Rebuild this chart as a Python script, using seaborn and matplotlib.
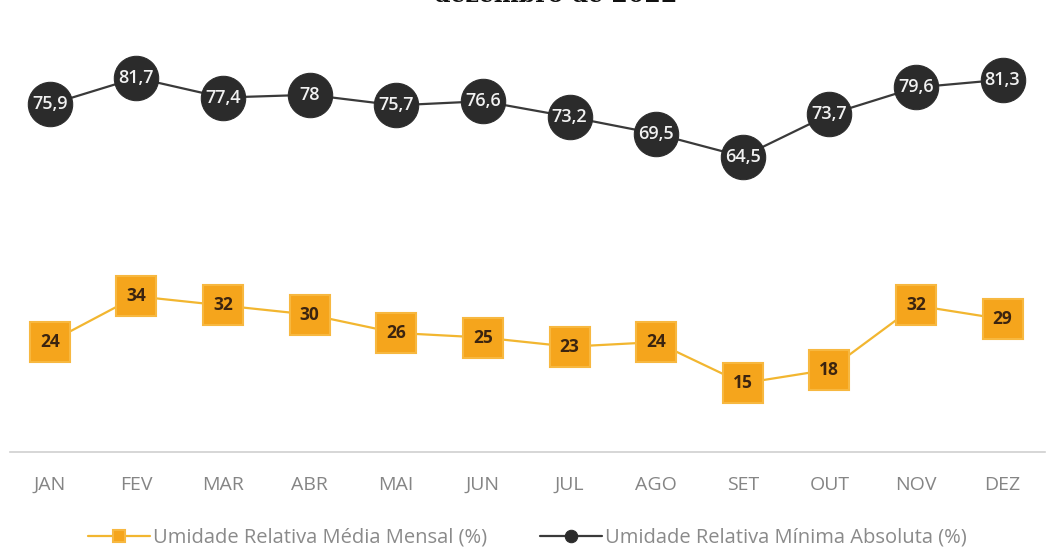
import pandas as pd
import matplotlib.pyplot as plt
import seaborn as sns

# monthly relative humidity values
months = ['JAN', 'FEV', 'MAR', 'ABR', 'MAI', 'JUN', 'JUL', 'AGO', 'SET', 'OUT', 'NOV', 'DEZ']
media_mensal = [24, 34, 32, 30, 26, 25, 23, 24, 15, 18, 32, 29]
minima_absoluta = [75.9, 81.7, 77.4, 78, 75.7, 76.6, 73.2, 69.5, 64.5, 73.7, 79.6, 81.3]
serie_media = 'Umidade Relativa Média Mensal (%)'
serie_minima = 'Umidade Relativa Mínima Absoluta (%)'

sns.set_style('white')
plt.rcParams['font.family'] = ['Open Sans', 'DejaVu Sans']

fig = plt.figure(figsize=(10.57, 5.53), dpi=100)
ax = fig.add_axes([10 / 1057, 1 - 452 / 553, 1035 / 1057, 452 / 553])

x = list(range(len(months)))
orange = '#F5A51C'
dark = '#2B2B2B'

sns.lineplot(x=x, y=media_mensal, ax=ax, color='#F2B630', linewidth=1.6,
             marker='s', markersize=29, markerfacecolor=orange,
             markeredgecolor='#F7B840', markeredgewidth=1.5, label=serie_media)
sns.lineplot(x=x, y=minima_absoluta, ax=ax, color='#3A3A3A', linewidth=1.6,
             marker='o', markersize=32, markerfacecolor=dark,
             markeredgecolor=dark, label=serie_minima)

# value labels inside the markers
for xi, v in zip(x, media_mensal):
    ax.text(xi, v, str(v), ha='center', va='center', fontsize=12.5,
            fontweight='bold', color='#3B2410')
for xi, v in zip(x, minima_absoluta):
    s = ('%g' % v).replace('.', ',')
    ax.text(xi, v, s, ha='center', va='center', fontsize=13,
            fontweight='semibold', color='#F2F2F2')

ax.set_xlim(-0.46, 11.49)
ax.set_ylim(0, 98.7)
ax.set_xticks(x)
ax.set_xticklabels(months, color='#858585', fontsize=14)
ax.set_yticks([])
ax.tick_params(axis='x', length=0, pad=17)
for side in ['top', 'left', 'right']:
    ax.spines[side].set_visible(False)
ax.spines['bottom'].set_color('#D0D0D0')
ax.spines['bottom'].set_linewidth(1.2)

# legend with small markers, below the axis
handles, labels = ax.get_legend_handles_labels()
leg = ax.legend(handles, labels, loc='center', bbox_to_anchor=(0.5, -0.19),
                ncol=2, frameon=False, fontsize=14.5, columnspacing=2.6,
                handlelength=3.1, handletextpad=0.15, markerscale=0.28,
                labelcolor='#8A8A8A')

# title is clipped at the top edge of the picture, as in the reference
fig.text(556 / 1057, 1.0 - 2 / 553, 'dezembro de 2022', ha='center', va='baseline',
         fontsize=17, fontweight='bold', family='DejaVu Serif', color='#111111')

fig.savefig('out.png', dpi=100)
